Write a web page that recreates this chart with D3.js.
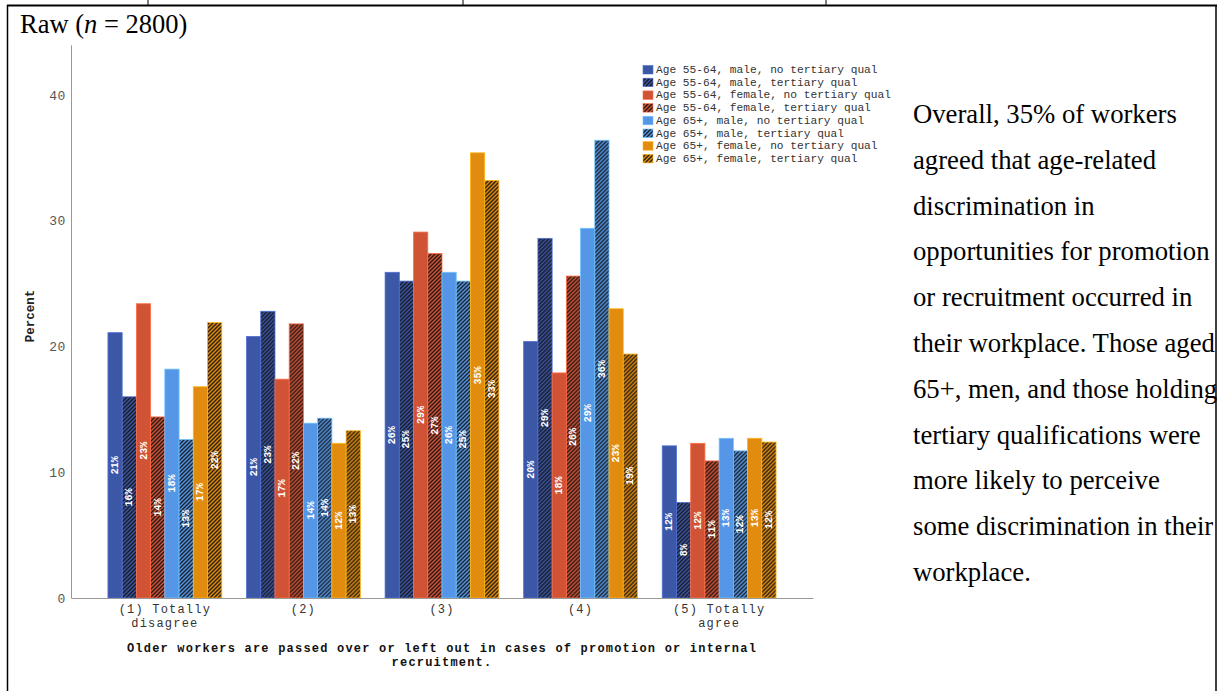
<!DOCTYPE html>
<html>
<head>
<meta charset="utf-8">
<script src="https://cdn.jsdelivr.net/npm/d3@7"></script>
<style>
  html, body { margin: 0; padding: 0; background: #fff; }
  svg { display: block; }
</style>
</head>
<body>
<svg id="chart" width="1218" height="691"></svg>
<script>
const categories = ["(1) Totally disagree", "(2)", "(3)", "(4)", "(5) Totally agree"];
const categoryLines = [["(1) Totally", "disagree"], ["(2)"], ["(3)"], ["(4)"], ["(5) Totally", "agree"]];
const seriesNames = [
  "Age 55-64, male, no tertiary qual",
  "Age 55-64, male, tertiary qual",
  "Age 55-64, female, no tertiary qual",
  "Age 55-64, female, tertiary qual",
  "Age 65+, male, no tertiary qual",
  "Age 65+, male, tertiary qual",
  "Age 65+, female, no tertiary qual",
  "Age 65+, female, tertiary qual"
];
const s5564MaleNoTert   = [21.1, 20.8, 25.9, 20.4, 12.1];
const s5564MaleTert     = [16.0, 22.8, 25.2, 28.6, 7.6];
const s5564FemaleNoTert = [23.4, 17.4, 29.1, 17.9, 12.3];
const s5564FemaleTert   = [14.4, 21.8, 27.4, 25.6, 10.9];
const s65MaleNoTert     = [18.2, 13.9, 25.9, 29.4, 12.7];
const s65MaleTert       = [12.6, 14.3, 25.2, 36.4, 11.7];
const s65FemaleNoTert   = [16.8, 12.3, 35.4, 23.0, 12.7];
const s65FemaleTert     = [21.9, 13.3, 33.2, 19.4, 12.4];
const seriesValues = [s5564MaleNoTert, s5564MaleTert, s5564FemaleNoTert, s5564FemaleTert,
                      s65MaleNoTert, s65MaleTert, s65FemaleNoTert, s65FemaleTert];
const yTicks = [0, 10, 20, 30, 40];
const yLabel = "Percent";
const xTitleLines = ["Older workers are passed over or left out in cases of promotion or internal", "recruitment."];
const sideText = [
  "Overall, 35% of workers",
  "agreed that age-related",
  "discrimination in",
  "opportunities for promotion",
  "or recruitment occurred in",
  "their workplace. Those aged",
  "65+, men, and those holding",
  "tertiary qualifications were",
  "more likely to perceive",
  "some discrimination in their",
  "workplace."
];

// styles
const baseColors = ["#3D57A7", "#3D57A7", "#D15336", "#D15336", "#5597E6", "#5597E6", "#E18C0F", "#E18C0F"];
const hatched = [false, true, false, true, false, true, false, true];
const mono = "Liberation Mono, Courier New, monospace";
const serif = "Liberation Serif, Times New Roman, serif";

const svg = d3.select("#chart");
const defs = svg.append("defs");
baseColors.forEach((c, i) => {
  if (!hatched[i]) return;
  const p = defs.append("pattern").attr("id", "hatch" + i)
    .attr("patternUnits", "userSpaceOnUse").attr("width", 4).attr("height", 4);
  p.append("rect").attr("width", 4).attr("height", 4).attr("fill", c);
  p.append("path").attr("d", "M-1,1 l2,-2 M0,4 l4,-4 M3,5 l2,-2")
    .attr("stroke", "#111").attr("stroke-width", 1.4).attr("stroke-opacity", 0.9);
});
const fillFor = i => hatched[i] ? `url(#hatch${i})` : baseColors[i];

// page frame (table cell borders)
svg.append("line").attr("x1", 7).attr("x2", 1217).attr("y1", 5.5).attr("y2", 5.5).attr("stroke", "#000").attr("stroke-width", 2);
svg.append("line").attr("x1", 7.5).attr("x2", 7.5).attr("y1", 5).attr("y2", 691).attr("stroke", "#000").attr("stroke-width", 1.5);
svg.append("line").attr("x1", 1216).attr("x2", 1216).attr("y1", 5).attr("y2", 691).attr("stroke", "#000").attr("stroke-width", 1.5);
[148, 463, 826].forEach(x => svg.append("line").attr("x1", x).attr("x2", x).attr("y1", 0).attr("y2", 5).attr("stroke", "#000").attr("stroke-width", 1));

// Raw title
const raw = svg.append("text").attr("x", 20).attr("y", 33)
  .attr("font-family", serif).attr("font-size", 26.5).attr("fill", "#000");
raw.append("tspan").text("Raw (");
raw.append("tspan").attr("font-style", "italic").text("n");
raw.append("tspan").text(" = 2800)");

// scales
const y = d3.scaleLinear().domain([0, 44]).range([598, 598 - 44 * 12.575]);
const x0 = d3.scaleBand().domain(categories).range([71, 813]).paddingInner(0.1787).paddingOuter(0.2666);
const x1 = d3.scaleBand().domain(d3.range(seriesNames.length)).range([0, x0.bandwidth()]);

// bars
const g = svg.append("g");
categories.forEach((cat, ci) => {
  const grp = g.append("g").attr("transform", `translate(${x0(cat)},0)`);
  seriesValues.forEach((vals, si) => {
    const v = vals[ci];
    grp.append("rect")
      .attr("x", x1(si)).attr("width", x1.bandwidth())
      .attr("y", y(v)).attr("height", y(0) - y(v))
      .attr("fill", fillFor(si))
      .attr("stroke", d3.color(baseColors[si]).brighter(0.7)).attr("stroke-width", 0.8);
    const cx = x1(si) + x1.bandwidth() / 2;
    const cy = (y(v) + y(0)) / 2;
    grp.append("text")
      .attr("transform", `translate(${cx + 0.5},${cy}) rotate(-90)`)
      .attr("text-anchor", "middle").attr("dominant-baseline", "central")
      .attr("font-family", mono).attr("font-weight", "bold")
      .attr("font-size", 10).attr("fill", "#fff")
      .text(Math.round(v) + "%");
  });
});

// y axis
const yAxis = svg.append("g").attr("transform", "translate(71,0)")
  .call(d3.axisLeft(y).tickValues(yTicks).tickSize(0).tickSizeOuter(0).tickPadding(5));
yAxis.select(".domain").attr("stroke", "#999");
yAxis.selectAll("text").attr("font-family", mono)
  .attr("font-size", 13).attr("letter-spacing", 0.6).attr("fill", "#555");

// x axis
const xAxis = svg.append("g").attr("transform", "translate(0,598)")
  .call(d3.axisBottom(x0).tickSize(0).tickSizeOuter(0).tickFormat(() => ""));
xAxis.select(".domain").attr("stroke", "#999");
xAxis.selectAll(".tick").each(function(d, i) {
  const t = d3.select(this).select("text").attr("y", 0).attr("dy", null)
    .attr("font-family", mono)
    .attr("font-size", 12).attr("letter-spacing", 1.2).attr("fill", "#333");
  categoryLines[i].forEach((ln, k) => {
    t.append("tspan").attr("x", 0).attr("y", 15 + k * 13.5).text(ln);
  });
});

// axis titles
svg.append("text").attr("transform", "translate(34,316) rotate(-90)")
  .attr("text-anchor", "middle")
  .attr("font-family", mono).attr("font-weight", "bold")
  .attr("font-size", 12.5).attr("fill", "#222").text(yLabel);
const xt = svg.append("text").attr("text-anchor", "middle")
  .attr("font-family", mono).attr("font-weight", "bold")
  .attr("font-size", 12).attr("letter-spacing", 1.2).attr("fill", "#111");
xTitleLines.forEach((ln, k) => xt.append("tspan").attr("x", 442).attr("y", 652 + k * 13.5).text(ln));

// legend
const lg = svg.append("g");
seriesNames.forEach((name, i) => {
  const yy = 65.5 + i * 12.7;
  lg.append("rect").attr("x", 643).attr("y", yy).attr("width", 10).attr("height", 8.5)
    .attr("fill", fillFor(i)).attr("stroke", d3.color(baseColors[i]).brighter(0.7)).attr("stroke-width", 0.6);
  lg.append("text").attr("x", 656).attr("y", yy + 7.5)
    .attr("font-family", mono).attr("font-size", 11.2)
    .attr("fill", "#333").text(name);
});

// side text
const st = svg.append("text").attr("font-family", serif)
  .attr("font-size", 26.7).attr("fill", "#000");
sideText.forEach((ln, k) => st.append("tspan").attr("x", 913).attr("y", 123 + k * 45.8).text(ln));
</script>
</body>
</html>
